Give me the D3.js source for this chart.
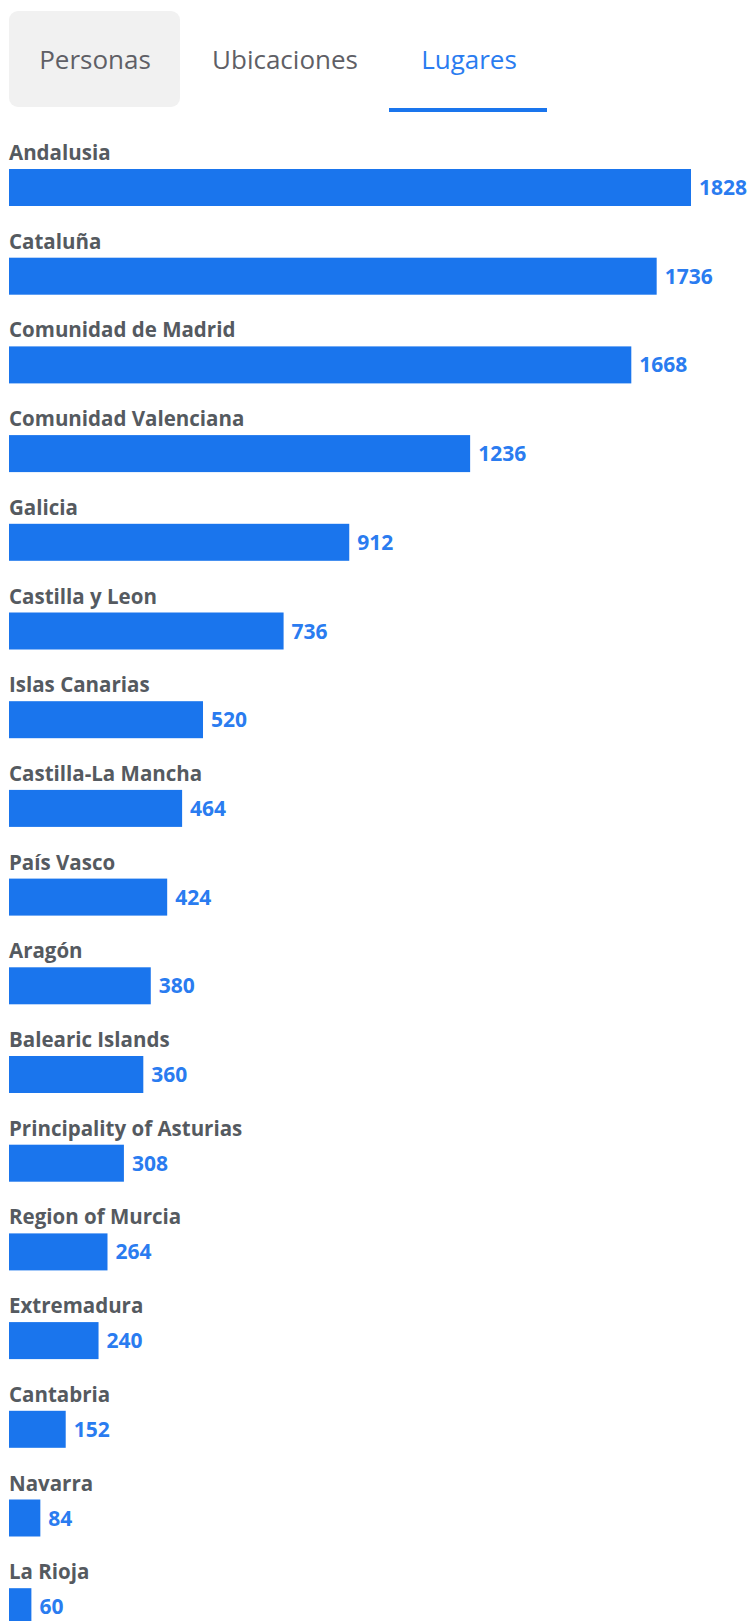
<!DOCTYPE html>
<html>
<head>
<meta charset="utf-8">
<script src="https://cdn.jsdelivr.net/npm/d3@7"></script>
<style>
  html, body { margin: 0; padding: 0; background: #fff; }
  svg { display: block; }
</style>
</head>
<body>
<div id="chart"></div>
<script>
// Tabs above the chart
const tabs = ["Personas", "Ubicaciones", "Lugares"];
const activeTab = "Lugares";

// Places by region
const regions = [
  "Andalusia", "Cataluña", "Comunidad de Madrid", "Comunidad Valenciana",
  "Galicia", "Castilla y Leon", "Islas Canarias", "Castilla-La Mancha",
  "País Vasco", "Aragón", "Balearic Islands", "Principality of Asturias",
  "Region of Murcia", "Extremadura", "Cantabria", "Navarra", "La Rioja"
];
const counts = [1828, 1736, 1668, 1236, 912, 736, 520, 464, 424, 380, 360, 308, 264, 240, 152, 84, 60];

const W = 753, H = 1621;
const FONT = "'Open Sans', 'Noto Sans', sans-serif";
const BLUE = "#1a75ed";

const svg = d3.select("#chart").append("svg")
  .attr("width", W).attr("height", H);

// ---- tab strip ----
const tabX = { "Personas": 95, "Ubicaciones": 285, "Lugares": 469 };
const tabG = svg.append("g");
tabG.append("rect")
  .attr("x", 9).attr("y", 11).attr("width", 171).attr("height", 96)
  .attr("rx", 9).attr("fill", "#f1f1f1");
tabG.selectAll("text").data(tabs).join("text")
  .attr("x", d => tabX[d]).attr("y", 69)
  .attr("text-anchor", "middle")
  .attr("font-family", FONT).attr("font-size", 26).attr("font-weight", 500)
  .attr("fill", d => d === activeTab ? "#2a7cf0" : "#5f5f66")
  .text(d => d);
tabG.append("rect")
  .attr("x", 389).attr("y", 108).attr("width", 158).attr("height", 4)
  .attr("fill", BLUE);

// ---- bars ----
const data = regions.map((r, i) => ({ region: r, value: counts[i] }));

const x = d3.scaleLinear().domain([0, 1828]).range([9, 691]);

const step = 88.7, barH = 37, yTop = 169;
const pInner = 1 - barH / step;
const y = d3.scaleBand()
  .domain(regions)
  .range([yTop, yTop + step * (regions.length - pInner)])
  .paddingInner(pInner).paddingOuter(0);

const rows = svg.append("g").selectAll("g").data(data).join("g");

rows.append("text")
  .attr("x", 9).attr("y", d => y(d.region) - 9)
  .attr("font-family", FONT).attr("font-weight", 700).attr("font-size", 20.5)
  .attr("fill", "#555a60")
  .text(d => d.region);

rows.append("rect")
  .attr("x", x(0)).attr("y", d => y(d.region))
  .attr("width", d => x(d.value) - x(0)).attr("height", y.bandwidth())
  .attr("fill", BLUE);

rows.append("text")
  .attr("x", d => x(d.value) + 8)
  .attr("y", d => y(d.region) + y.bandwidth() / 2)
  .attr("dy", "0.36em")
  .attr("font-family", FONT).attr("font-weight", 700).attr("font-size", 21)
  .attr("fill", "#2a7cf0")
  .text(d => d.value);
</script>
</body>
</html>
